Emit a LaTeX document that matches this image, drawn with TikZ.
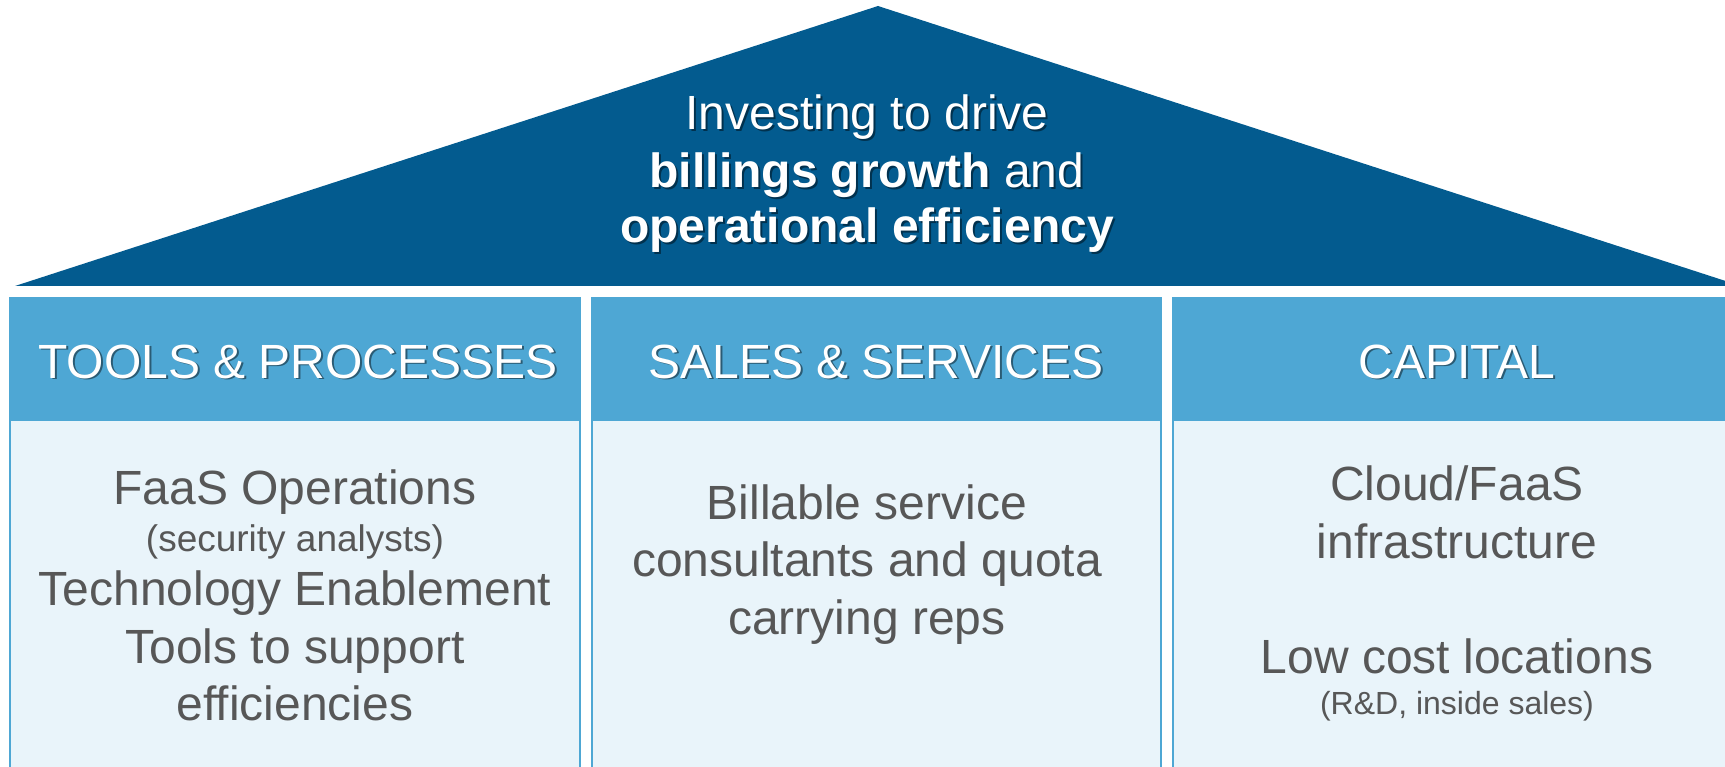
\documentclass[tikz,border=0pt]{standalone}
\usepackage{fontspec}
\setmainfont{Liberation Sans}
\definecolor{roofblue}{HTML}{035B8F}
\definecolor{headblue}{HTML}{4EA7D4}
\definecolor{bodyblue}{HTML}{E9F4FA}
\definecolor{bodytext}{HTML}{575757}
\begin{document}
\begin{tikzpicture}[x=1pt,y=-1pt,
  bigtxt/.style={font=\fontsize{48}{57}\selectfont},
  smalltxt/.style={font=\fontsize{37}{43}\selectfont},
  smallertxt/.style={font=\fontsize{32}{40}\selectfont},
  line/.style={anchor=base,inner sep=0pt,text=bodytext},
  wline/.style={anchor=base,inner sep=0pt,text=white},
  shline/.style={anchor=base,inner sep=0pt,text=black,opacity=0.45},
  headbox/.style={fill=headblue,draw=none},
  bodybox/.style={fill=bodyblue,draw=headblue,line width=2pt}]
\useasboundingbox (0,0) rectangle (1725,767);
% roof
\fill[roofblue] (15,286) -- (878,6) -- (1741,286) -- cycle;
% columns
\path[bodybox] (10,420) rectangle (580,790);
\path[bodybox] (592,420) rectangle (1161,790);
\path[bodybox] (1173,420) rectangle (1760,790);
\path[headbox] (9,297) rectangle (581,421);
\path[headbox] (591,297) rectangle (1162,421);
\path[headbox] (1172,297) rectangle (1760,421);
% roof text
\foreach \t/\y/\n in {{Investing to drive}/130/r1,{\textbf{billings growth} and}/188/r2,{\textbf{operational efficiency}}/243/r3}{
  \node[shline,bigtxt] (s\n) at (869,\y+2) {\t};
  \node[wline,bigtxt] (\n) at (867,\y) {\t};
}
% headers
\foreach \t/\x/\n in {{TOOLS \& PROCESSES}/298/h1,{SALES \& SERVICES}/876/h2,{CAPITAL}/1457/h3}{
  \node[shline,bigtxt] (s\n) at (\x+2,380) {\t};
  \node[wline,bigtxt] (\n) at (\x,378) {\t};
}
% column 1
\node[line,bigtxt] (a1) at (295,504) {FaaS Operations};
\node[line,smalltxt] (a2) at (295,551) {(security analysts)};
\node[line,bigtxt] (a3) at (295,605) {Technology Enablement};
\node[line,bigtxt] (a4) at (295,663) {Tools to support};
\node[line,bigtxt] (a5) at (295,720) {efficiencies};
% column 2
\node[line,bigtxt] (b1) at (867,519) {Billable service};
\node[line,bigtxt] (b2) at (867,576) {consultants and quota};
\node[line,bigtxt] (b3) at (867,634) {carrying reps};
% column 3
\node[line,bigtxt] (c1) at (1457,500) {Cloud/FaaS};
\node[line,bigtxt] (c2) at (1457,558) {infrastructure};
\node[line,bigtxt] (c3) at (1457,673) {Low cost locations};
\node[line,smallertxt] (c4) at (1457,714) {(R\&D, inside sales)};
\end{tikzpicture}
\end{document}
